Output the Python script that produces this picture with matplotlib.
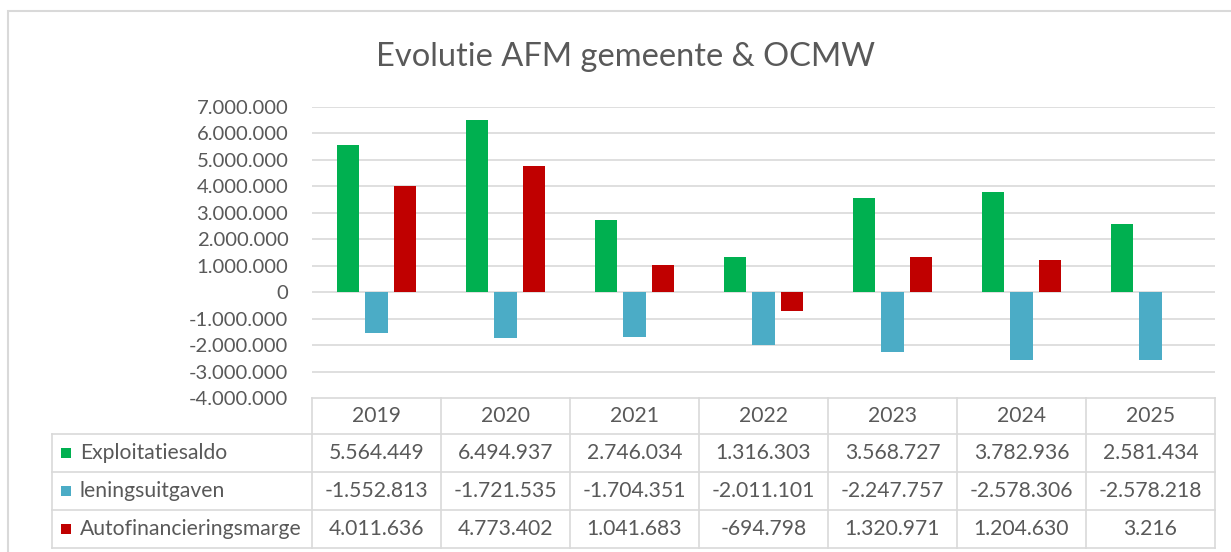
import matplotlib
matplotlib.use("Agg")
import matplotlib.pyplot as plt
import matplotlib.transforms as mtransforms
from matplotlib.patches import Rectangle
from matplotlib.lines import Line2D
import numpy as np

plt.rcParams['font.family'] = ['Lato', 'DejaVu Sans']

years = ["2019", "2020", "2021", "2022", "2023", "2024", "2025"]
series_names = ["Exploitatiesaldo", "leningsuitgaven", "Autofinancieringsmarge"]
exploitatiesaldo = [5564449, 6494937, 2746034, 1316303, 3568727, 3782936, 2581434]
leningsuitgaven = [-1552813, -1721535, -1704351, -2011101, -2247757, -2578306, -2578218]
autofinancieringsmarge = [4011636, 4773402, 1041683, -694798, 1320971, 1204630, 3216]
colors = ["#00B050", "#4BACC6", "#C00000"]
title = "Evolutie AFM gemeente & OCMW"
yticks = list(range(-4000000, 7000001, 1000000))

W, H = 1231, 552
fig = plt.figure(figsize=(W / 100, H / 100), dpi=100)
fig.patch.set_facecolor("white")

def fx(px):
    return px / W

def fy(py):
    return 1 - py / H

# outer chart border (only left/top visible in crop)
fig.add_artist(Rectangle((fx(8), fy(560)), fx(1240) - fx(8), fy(11) - fy(560),
                         transform=fig.transFigure, fill=False, edgecolor="#D9D9D9", lw=1.5))

ax_l, ax_r, ax_t, ax_b = 312, 1215, 107, 398
ax = fig.add_axes([fx(ax_l), fy(ax_b), fx(ax_r) - fx(ax_l), fy(ax_t) - fy(ax_b)])
ax.set_xlim(-0.5, len(years) - 0.5)
ax.set_ylim(-4000000, 7000000)
for s in ax.spines.values():
    s.set_visible(False)

grid_c = "#D9D9D9"
for v in yticks[1:]:
    ax.axhline(v, color=grid_c, lw=1.2, zorder=0)

x = np.arange(len(years))
bw = 0.175
step = 0.22
data = [exploitatiesaldo, leningsuitgaven, autofinancieringsmarge]
for i, (vals, c) in enumerate(zip(data, colors)):
    ax.bar(x + (i - 1) * step, vals, width=bw, color=c, zorder=2)

ax.set_xticks([])
ax.set_yticks(yticks)
ax.set_yticklabels([f"{v:,}".replace(",", ".") for v in yticks], fontsize=14.6, color="#595959")
ax.tick_params(axis="y", length=0, pad=17)

fig.text(fx(625), fy(57), title, ha="center", va="center", fontsize=23.5, color="#595959")

# data table
row_edges = [398, 434, 472, 510, 548]
tab_left = 52
line_kw = dict(color=grid_c, lw=1.2, transform=fig.transFigure)
trans = mtransforms.blended_transform_factory(ax.transData, fig.transFigure)
fig.add_artist(Line2D([fx(ax_l), fx(ax_r)], [fy(398), fy(398)], **line_kw))
for r in row_edges[1:]:
    fig.add_artist(Line2D([fx(tab_left), fx(ax_r)], [fy(r), fy(r)], **line_kw))
for k in range(len(years) + 1):
    fig.add_artist(Line2D([k - 0.5, k - 0.5], [fy(398), fy(548)], color=grid_c, lw=1.2, transform=trans))
fig.add_artist(Line2D([fx(tab_left), fx(tab_left)], [fy(434), fy(548)], **line_kw))

txt_c = "#595959"
fs = 15.2
for k, yr in enumerate(years):
    fig.text(k, fy((398 + 434) / 2), yr, transform=trans, ha="center", va="center", fontsize=fs, color=txt_c)
for j, (name, vals, c) in enumerate(zip(series_names, data, colors)):
    yc = fy((row_edges[j + 1] + row_edges[j + 2]) / 2)
    fig.add_artist(Rectangle((fx(61), yc - 5 / H), 10 / W, 10 / H, transform=fig.transFigure,
                             facecolor=c, edgecolor="none"))
    fig.text(fx(80), yc, name, ha="left", va="center", fontsize=fs, color=txt_c)
    for k, v in enumerate(vals):
        fig.text(k, yc, f"{v:,}".replace(",", "."), transform=trans, ha="center", va="center",
                 fontsize=fs, color=txt_c)

fig.savefig("out.png", dpi=100, facecolor="white")
